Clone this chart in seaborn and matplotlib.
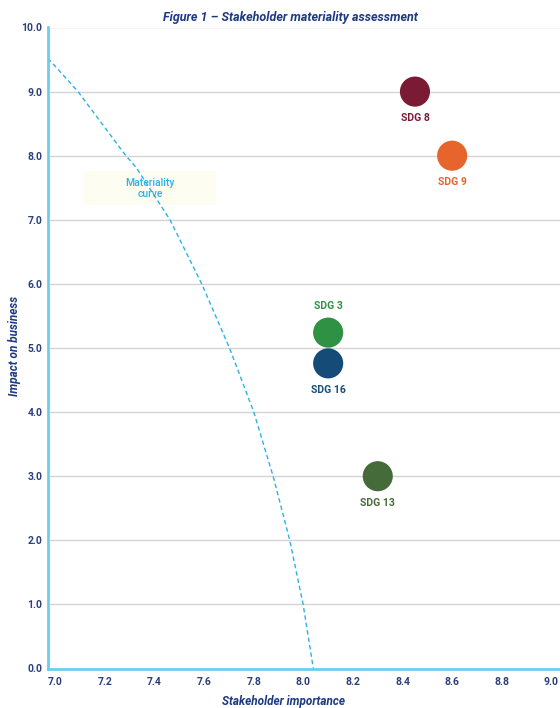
import matplotlib
matplotlib.use("Agg")
import matplotlib.pyplot as plt
from matplotlib import font_manager
from matplotlib.patches import Rectangle
import seaborn as sns
import pandas as pd

# SDG positions: stakeholder importance vs impact on business
sdg_labels = ["SDG 8", "SDG 9", "SDG 3", "SDG 16", "SDG 13"]
stakeholder_importance = [8.45, 8.6, 8.1, 8.1, 8.3]
impact_on_business = [9.0, 8.0, 5.24, 4.76, 3.0]
sdg_colors = ["#7b1a33", "#e5652c", "#2f9143", "#154b77", "#466b3b"]
label_above = [False, False, True, False, False]

# Materiality curve (read points, drawn as a dashed line)
curve_x = [6.97, 7.091, 7.284, 7.325, 7.432, 7.462, 7.59, 7.702, 7.80, 7.878, 7.945, 7.999, 8.04]
curve_y = [9.52, 9.0, 8.0, 7.82, 7.18, 7.0, 6.0, 5.0, 4.0, 3.0, 2.0, 1.0, 0.0]

x_ticks = [7.0, 7.2, 7.4, 7.6, 7.8, 8.0, 8.2, 8.4, 8.6, 8.8, 9.0]
y_ticks = [0.0, 1.0, 2.0, 3.0, 4.0, 5.0, 6.0, 7.0, 8.0, 9.0, 10.0]

sns.set_theme(style="white")
available = {f.name for f in font_manager.fontManager.ttflist}
family = "Liberation Sans Narrow" if "Liberation Sans Narrow" in available else "Roboto"
plt.rcParams["font.family"] = [family, "DejaVu Sans"]

navy = "#2b3f7c"
title_navy = "#1c3a82"
spine_blue = "#6ccdef"
curve_blue = "#2ab4e2"

W, H = 560, 708
fig = plt.figure(figsize=(W / 100, H / 100), dpi=100)
ax = fig.add_axes([48 / W, 1 - 668.5 / H, 1 - 48 / W, (668.5 - 27.5) / H])

df = pd.DataFrame({"x": stakeholder_importance, "y": impact_on_business, "sdg": sdg_labels})
curve = pd.DataFrame({"x": curve_x, "y": curve_y})

sns.lineplot(data=curve, x="x", y="y", sort=False, ax=ax, color=curve_blue,
             linewidth=1.0, dashes=False, zorder=3)
ax.lines[-1].set_dashes([3.2, 2.2])

sns.scatterplot(data=df, x="x", y="y", hue="sdg", palette=dict(zip(sdg_labels, sdg_colors)),
                s=470, linewidth=0, legend=False, ax=ax, zorder=4)

for lab, x, y, c, up in zip(sdg_labels, stakeholder_importance, impact_on_business,
                            sdg_colors, label_above):
    ax.annotate(lab, (x, y), xytext=(0, 19 if up else -19), textcoords="offset points",
                ha="center", va="center", color=c, fontsize=7.5, fontweight="bold")

# Label box for the curve
ax.add_patch(Rectangle((7.111, 7.23), 0.536, 0.53, facecolor="#fdfdf1",
                       edgecolor="none", zorder=2))
ax.text(7.381, 7.49, "Materiality\ncurve", ha="center", va="center",
        color=curve_blue, fontsize=7.5, fontweight="medium", linespacing=1.15, zorder=3)

ax.set_xlim(6.97, 9.035)
ax.set_ylim(0, 10)
ax.set_xticks(x_ticks)
ax.set_yticks(y_ticks)
ax.set_xticklabels([f"{v:.1f}" for v in x_ticks])
ax.set_yticklabels([f"{v:.1f}" for v in y_ticks])
ax.tick_params(axis="both", length=0, labelsize=7.5, labelcolor=navy)
ax.tick_params(axis="x", pad=6)
ax.tick_params(axis="y", pad=4)
for lbl in ax.get_xticklabels() + ax.get_yticklabels():
    lbl.set_fontweight("bold")

ax.grid(axis="y", color="#d4d4d4", linewidth=1.0)
ax.grid(axis="x", visible=False)
ax.set_axisbelow(True)
for side in ["top", "right"]:
    ax.spines[side].set_visible(False)
for side in ["left", "bottom"]:
    ax.spines[side].set_color(spine_blue)
    ax.spines[side].set_linewidth(2.0)
    ax.spines[side].set_zorder(5)

ax.set_xlabel("")
ax.set_ylabel("")
label_style = dict(fontsize=8.5, fontweight="bold", fontstyle="italic", color=title_navy)
fig.text(283 / W, 1 - 702 / H, "Stakeholder importance", ha="center", va="center", **label_style)
fig.text(15 / W, 1 - 346 / H, "Impact on business", ha="center", va="center",
         rotation=90, **label_style)
fig.text(290 / W, 1 - 18 / H, "Figure 1 – Stakeholder materiality assessment", ha="center",
         va="center", fontsize=9, fontweight="bold", fontstyle="italic", color=title_navy)

fig.savefig("out.png", dpi=100, facecolor="white")
